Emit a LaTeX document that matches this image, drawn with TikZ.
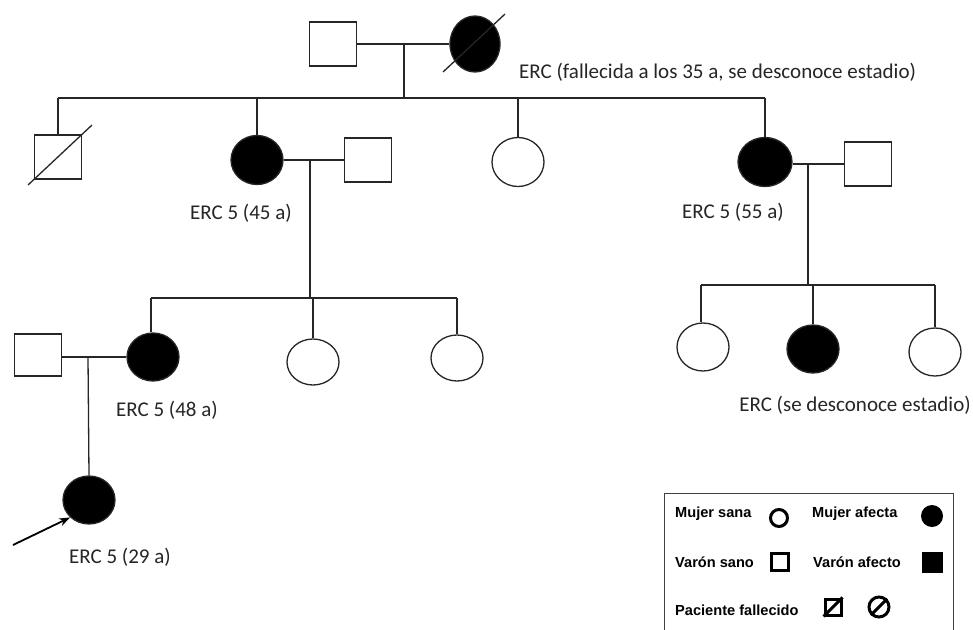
\documentclass[tikz,border=0pt]{standalone}
\usepackage{fontspec}
\setmainfont{Carlito}
\newfontfamily\legfont{Liberation Sans}
\usetikzlibrary{shapes.geometric,arrows.meta}
\begin{document}
\begin{tikzpicture}[x=1pt,y=-1pt,
  ln/.style={line width=1.3pt, draw=black!85},
  fem/.style={ellipse, draw=black!85, line width=1.3pt, minimum width=52pt, minimum height=49pt, inner sep=0pt},
  femA/.style={fem, fill=black},
  male/.style={rectangle, draw=black!85, line width=1.3pt, minimum width=47pt, minimum height=44pt, inner sep=0pt},
  lab/.style={font=\fontsize{21}{23}\selectfont, text=black!85, inner sep=0pt},
  leg/.style={font=\legfont\bfseries\fontsize{14.6}{16}\selectfont, inner sep=0pt, anchor=west},
  legsym/.style={line width=3pt, draw=black, inner sep=0pt}
]
\useasboundingbox (0,0) rectangle (973,629);
\fill[white] (0,0) rectangle (973,629);

% Generation I
\node[male] (F0) at (333,44) {};
\node[femA, minimum width=50pt, minimum height=56pt] (M0) at (475,44) {};
\draw[ln] ([shift={(-32,28)}]M0.center) -- ([shift={(30,-30)}]M0.center);
\node[lab, anchor=west] (t0) at (519,72) {ERC (fallecida a los 35 a, se desconoce estadio)};
\draw[ln] (F0) -- (M0);
\coordinate (m0) at (404,44);
\coordinate (s1L) at (58,98);
\coordinate (s1R) at (765,98);
\draw[ln] (m0) -- (m0 |- s1L);
\draw[ln] (s1L) -- (s1R);

% Generation II
\node[male] (F1) at (58,157) {};
\draw[ln] ([shift={(-30,28)}]F1.center) -- ([shift={(34,-32)}]F1.center);
\node[femA] (A1) at (257,160) {};
\node[male] (H1) at (368,160) {};
\node[fem] (A2) at (518,162) {};
\node[femA, minimum width=54pt] (A3) at (765,162) {};
\node[male] (H3) at (868,164) {};
\draw[ln] (s1L) -- (F1.north);
\draw[ln] (A1 |- s1L) -- (A1.north);
\draw[ln] (A2 |- s1L) -- (A2.north);
\draw[ln] (s1R) -- (A3.north);
\draw[ln] (A1) -- (H1);
\draw[ln] (A3.east |- H3.west) -- (H3.west);
\node[lab] (t1) at (241,213) {ERC 5 (45 a)};
\node[lab] (t3) at (733,212) {ERC 5 (55 a)};

% Generation III left
\coordinate (m1) at (310,160);
\coordinate (s2L) at (151,298);
\coordinate (s2R) at (457,298);
\draw[ln] (m1) -- (m1 |- s2L);
\draw[ln] (s2L) -- (s2R);
\node[femA, minimum height=48pt] (B1) at (153,357) {};
\node[fem, minimum height=46pt] (B2) at (313,362) {};
\node[fem, minimum height=46pt] (B3) at (457,358) {};
\node[male, minimum height=42pt] (H4) at (38,355) {};
\draw[ln] (s2L) -- (s2L |- B1.north);
\draw[ln] (B2 |- s2L) -- (B2.north);
\draw[ln] (s2R) -- (B3.north);
\draw[ln] (H4.east |- B1.west) -- (B1.west);
\node[lab] (t4) at (167,410) {ERC 5 (48 a)};

% Generation III right
\coordinate (m3) at (808,164);
\coordinate (s3L) at (701,285);
\coordinate (s3R) at (935,285);
\draw[ln] (m3) -- (m3 |- s3L);
\draw[ln] (s3L) -- (s3R);
\node[fem, minimum height=48pt] (C1) at (703,347) {};
\node[femA, minimum height=48pt] (C2) at (813,349) {};
\node[fem, minimum height=48pt] (C3) at (935,352) {};
\draw[ln] (s3L) -- (s3L |- C1.north);
\draw[ln] (C2 |- s3L) -- (C2.north);
\draw[ln] (s3R) -- (C3.north);
\node[lab] (t5) at (855,405) {ERC (se desconoce estadio)};

% Generation IV
\coordinate (m4) at (88,357);
\node[femA, minimum height=48pt] (P) at (89,500) {};
\draw[ln] (m4) -- (P.north);
\coordinate (arr) at (13,545);
\draw[line width=1.8pt, -{Stealth[length=11pt,width=8pt]}] (arr) -- (P.south west);
\node[lab] (t6) at (120,557) {ERC 5 (29 a)};

% Legend
\draw[line width=1pt, draw=black!75] (664,493) rectangle (953,660);
\node[leg] (l1) at (675,514) {Mujer sana};
\node[leg] (l2) at (812,514) {Mujer afecta};
\node[leg] (l3) at (675,562) {Varón sano};
\node[leg] (l4) at (813,562) {Varón afecto};
\node[leg] (l5) at (675,610) {Paciente fallecido};
\node[legsym, circle, minimum size=17pt] (g1) at (779,518) {};
\node[circle, fill=black, inner sep=0pt, minimum size=22pt] (g2) at (932,516) {};
\node[legsym, rectangle, minimum size=17pt] (g3) at (780,562) {};
\node[rectangle, fill=black, inner sep=0pt, minimum size=21pt] (g4) at (932,562) {};
\node[legsym, rectangle, minimum size=16pt] (g5) at (833,607) {};
\draw[line width=3pt] (g5.south west) -- (g5.north east);
\node[legsym, circle, minimum size=20pt] (g6) at (879,607) {};
\draw[line width=3pt] (g6.south west) -- (g6.north east);
\end{tikzpicture}
\end{document}
